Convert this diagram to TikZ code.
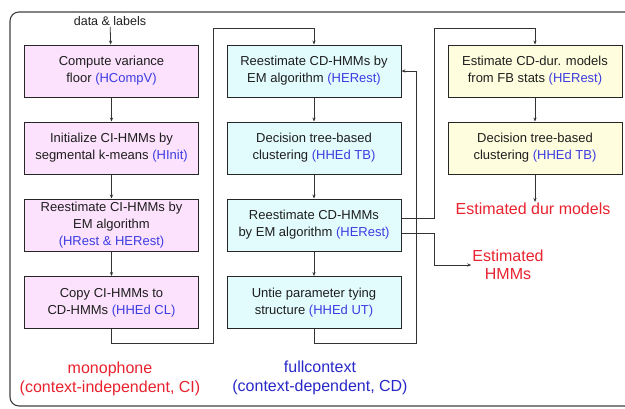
\documentclass[tikz,border=0pt]{standalone}
\usepackage{fontspec}
\setmainfont{Liberation Sans}
\usetikzlibrary{arrows.meta}
\definecolor{pinkf}{RGB}{252,226,252}
\definecolor{cyanf}{RGB}{226,252,254}
\definecolor{yelf}{RGB}{254,254,222}
\definecolor{tool}{RGB}{60,60,225}
\definecolor{redl}{RGB}{232,34,46}
\definecolor{bluel}{RGB}{40,40,200}
\definecolor{txt}{RGB}{30,30,30}
\newcommand{\tl}[1]{\textcolor{tool}{#1}}
\begin{document}
\begin{tikzpicture}[x=1pt,y=-1pt,
  box/.style={draw=black!85,line width=1pt,minimum width=174pt,minimum height=52pt,
    align=center,inner sep=1pt,text=txt,font=\fontsize{13}{17}\selectfont},
  pinkbox/.style={box,fill=pinkf},
  cyanbox/.style={box,fill=cyanf},
  yelbox/.style={box,fill=yelf},
  arr/.style={draw=black!80,line width=0.8pt,-{Stealth[length=4pt,width=3.2pt]}},
  bigl/.style={font=\fontsize{16}{19}\selectfont,align=center}]
\useasboundingbox (0,0) rectangle (625,408);
\draw[black!75,line width=1.1pt,rounded corners=9pt] (10,12) rectangle (680,406);

\node[font=\fontsize{12.5}{15}\selectfont,text=txt,inner sep=1pt] (data) at (110,21) {data \& labels};

\node[pinkbox] (b1) at (111.5,71) {Compute variance\\floor \tl{(HCompV)}};
\node[pinkbox] (b2) at (111.5,148) {Initialize CI-HMMs by\\segmental k-means \tl{(HInit)}};
\node[pinkbox] (b3) at (111.5,225) {Reestimate CI-HMMs by\\EM algorithm\\\tl{(HRest \& HERest)}};
\node[pinkbox] (b4) at (111.5,302.5) {Copy CI-HMMs to\\CD-HMMs \tl{(HHEd CL)}};

\node[cyanbox] (b5) at (314,71) {Reestimate CD-HMMs by\\EM algorithm \tl{(HERest)}};
\node[cyanbox] (b6) at (314,148) {Decision tree-based\\clustering \tl{(HHEd TB)}};
\node[cyanbox] (b7) at (314,225) {Reestimate CD-HMMs\\by EM algorithm \tl{(HERest)}};
\node[cyanbox] (b8) at (314,302.5) {Untie parameter tying\\structure \tl{(HHEd UT)}};

\node[yelbox] (b9) at (535,71) {Estimate CD-dur. models\\from FB stats \tl{(HERest)}};
\node[yelbox] (b10) at (535,148) {Decision tree-based\\clustering \tl{(HHEd TB)}};

\node[bigl,text=redl,inner sep=1pt] (dur) at (533,209) {Estimated dur models};
\node[bigl,text=redl,inner sep=1pt,font=\fontsize{16}{18}\selectfont] (hmm) at (508,265) {Estimated\\HMMs};
\node[bigl,text=redl] (mono) at (110,379) {monophone\\(context-independent, CI)};
\node[bigl,text=bluel] (full) at (320,378) {fullcontext\\(context-dependent, CD)};

\coordinate (c1) at (213,343);
\coordinate (c2) at (213,28);
\coordinate (c3) at (416,343);
\coordinate (c4) at (416,71);
\coordinate (c5) at (434,28);
\coordinate (c6) at (434,265);

\draw[arr] (data) -- (b1);
\draw[arr] (b1) -- (b2);
\draw[arr] (b2) -- (b3);
\draw[arr] (b3) -- (b4);
\draw[arr] (b4.south) |- (c1) -- (c2) -| (b5.north);
\draw[arr] (b5) -- (b6);
\draw[arr] (b6) -- (b7);
\draw[arr] (b7) -- (b8);
\draw[arr] (b8.south) |- (c3) -- (c4) -- (b5.east);
\draw[arr] ([yshift=7pt]b7.east) -| (c5) -| (b9.north);
\draw[arr] ([yshift=-8pt]b7.east) -| (c6) -- (hmm.west);
\draw[arr] (b9) -- (b10);
\draw[arr] (b10.south) -- (b10.south |- dur.north);
\end{tikzpicture}
\end{document}
